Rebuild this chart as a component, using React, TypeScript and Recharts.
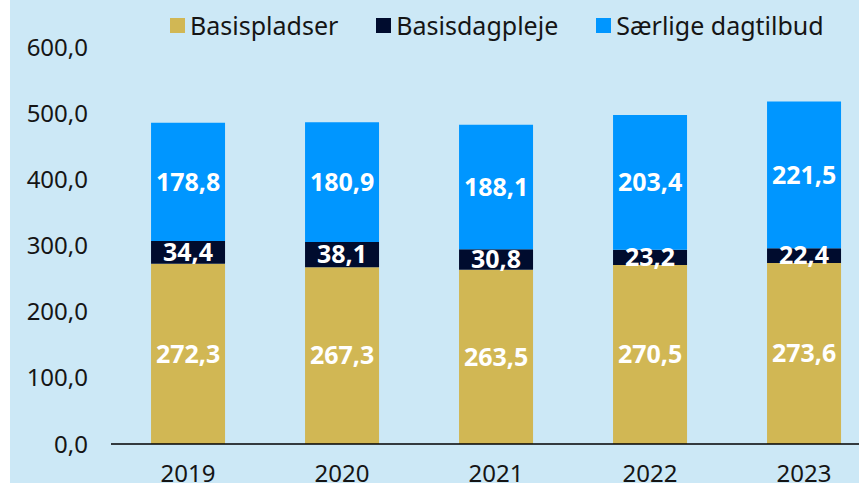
import { BarChart, Bar, XAxis, YAxis, Legend, LabelList } from "recharts";

const years = ["2019", "2020", "2021", "2022", "2023"];
const basispladser = [272.3, 267.3, 263.5, 270.5, 273.6];
const basisdagpleje = [34.4, 38.1, 30.8, 23.2, 22.4];
const saerlige = [178.8, 180.9, 188.1, 203.4, 221.5];
const yTicks = [0, 100, 200, 300, 400, 500, 600];

const SERIES = [
  { key: "basispladser", name: "Basispladser", color: "#D1B754" },
  { key: "basisdagpleje", name: "Basisdagpleje", color: "#000C2E" },
  { key: "saerlige", name: "Særlige dagtilbud", color: "#0096FF" },
];

const data = years.map((year, i) => ({
  year,
  basispladser: basispladser[i],
  basisdagpleje: basisdagpleje[i],
  saerlige: saerlige[i],
}));

const FONT = "'Noto Sans', sans-serif";
const fmt = (v: any) => Number(v).toFixed(1).replace(".", ",");

// legend drawn by hand so the squares and spacing line up
const renderLegend = () => (
  <div
    style={{
      display: "flex",
      gap: 38,
      fontFamily: FONT,
      fontSize: 25,
      lineHeight: "30px",
      color: "#151515",
    }}
  >
    {SERIES.map((s) => (
      <div key={s.key} style={{ display: "flex", alignItems: "center" }}>
        <span style={{ width: 15, height: 15, background: s.color, marginRight: 5 }} />
        <span>{s.name}</span>
      </div>
    ))}
  </div>
);

export default function App() {
  return (
    <div
      style={{
        position: "absolute",
        left: 0,
        top: 0,
        width: 859,
        height: 483,
        background: "#fff",
        overflow: "hidden",
      }}
    >
      <div
        style={{
          position: "absolute",
          left: 10,
          top: 0,
          width: 849,
          height: 483,
          background: "#CCE8F6",
          overflow: "hidden",
        }}
      >
        <BarChart
          width={880}
          height={500}
          data={data}
          margin={{ top: 17, right: 9, bottom: 0, left: 0 }}
          barCategoryGap="26%"
        >
          <XAxis
            dataKey="year"
            height={56}
            tickLine={false}
            tickMargin={15}
            axisLine={{ stroke: "#000", strokeWidth: 1.5 }}
            tick={{ fill: "#151515", fontSize: 24, fontFamily: FONT }}
          />
          <YAxis
            width={101}
            domain={[0, 600]}
            ticks={yTicks}
            axisLine={false}
            tickLine={false}
            tickMargin={17}
            tickFormatter={fmt}
            tick={{ fill: "#151515", fontSize: 24, fontFamily: FONT }}
          />
          <Legend
            verticalAlign="top"
            content={renderLegend}
            wrapperStyle={{ top: 10, left: 160, width: "auto", height: 30 }}
          />
          {SERIES.map((s) => (
            <Bar
              key={s.key}
              dataKey={s.key}
              name={s.name}
              stackId="a"
              fill={s.color}
              isAnimationActive={false}
            >
              <LabelList
                dataKey={s.key}
                position="center"
                formatter={fmt}
                fill="#fff"
                style={{ fontSize: 25, fontWeight: 700, fontFamily: FONT }}
              />
            </Bar>
          ))}
        </BarChart>
      </div>
    </div>
  );
}
